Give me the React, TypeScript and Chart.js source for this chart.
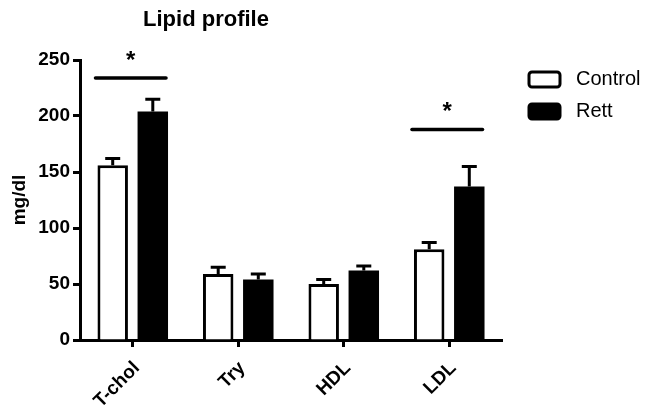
import React, { useEffect, useRef } from "react";
import { Chart, registerables } from "chart.js";

Chart.register(...registerables);

const categories = ["T-chol", "Try", "HDL", "LDL"];
const seriesNames = ["Control", "Rett"];
const controlValues = [156, 59, 50, 81];
const controlErrors = [6, 6, 4, 6];
const rettValues = [204, 54, 62, 137];
const rettErrors = [11, 5, 4, 18];
const sigCategories = [0, 3];
const sigLevels = [234, 188];
const sigLabels = ["*", "*"];
const yTicks = [0, 50, 100, 150, 200, 250];

const FONT = "Arial, 'Liberation Sans', sans-serif";

const errorBarPlugin = {
  id: "errorBars",
  afterDatasetsDraw(chart: any) {
    const ctx = chart.ctx;
    const y = chart.scales.y;
    const errs = [controlErrors, rettErrors];
    ctx.save();
    ctx.strokeStyle = "#000";
    ctx.lineWidth = 3;
    chart.data.datasets.forEach((ds: any, di: number) => {
      const meta = chart.getDatasetMeta(di);
      meta.data.forEach((bar: any, i: number) => {
        const v = ds.data[i];
        const top = y.getPixelForValue(v + errs[di][i]);
        const base = y.getPixelForValue(v);
        const half = 7.5;
        ctx.beginPath();
        ctx.moveTo(bar.x, base);
        ctx.lineTo(bar.x, top);
        ctx.moveTo(bar.x - half, top);
        ctx.lineTo(bar.x + half, top);
        ctx.stroke();
      });
    });
    ctx.restore();
  },
};

const sigPlugin = {
  id: "significance",
  afterDatasetsDraw(chart: any) {
    const ctx = chart.ctx;
    const y = chart.scales.y;
    const m0 = chart.getDatasetMeta(0);
    const m1 = chart.getDatasetMeta(1);
    ctx.save();
    ctx.strokeStyle = "#000";
    ctx.fillStyle = "#000";
    ctx.lineWidth = 3.5;
    ctx.lineCap = "round";
    sigCategories.forEach((ci, k) => {
      const b0 = m0.data[ci];
      const b1 = m1.data[ci];
      const x0 = b0.x - b0.width / 2 - 2;
      const x1 = b1.x + b1.width / 2 - 2;
      const py = y.getPixelForValue(sigLevels[k]);
      ctx.beginPath();
      ctx.moveTo(x0, py);
      ctx.lineTo(x1, py);
      ctx.stroke();
      ctx.font = `bold 24px ${FONT}`;
      ctx.textAlign = "center";
      ctx.textBaseline = "middle";
      ctx.fillText(sigLabels[k], (x0 + x1) / 2, py - 17);
    });
    ctx.restore();
  },
};

const titlePlugin = {
  id: "customTitle",
  afterDraw(chart: any) {
    const ctx = chart.ctx;
    const a = chart.chartArea;
    ctx.save();
    ctx.font = `bold 22px ${FONT}`;
    ctx.fillStyle = "#000";
    ctx.textAlign = "center";
    ctx.textBaseline = "middle";
    ctx.fillText("Lipid profile", a.left + 126, 12);
    ctx.restore();
  },
};

const legendPlugin = {
  id: "customLegend",
  afterDraw(chart: any) {
    const ctx = chart.ctx;
    const a = chart.chartArea;
    ctx.save();
    chart.data.datasets.forEach((ds: any, i: number) => {
      const bx = a.right + 27;
      const by = a.top + 12 + i * 32;
      const w = 31;
      const h = 15;
      ctx.beginPath();
      if (ctx.roundRect) ctx.roundRect(bx, by, w, h, 3);
      else ctx.rect(bx, by, w, h);
      ctx.fillStyle = ds.backgroundColor;
      ctx.fill();
      ctx.lineWidth = 3;
      ctx.strokeStyle = "#000";
      ctx.stroke();
      ctx.fillStyle = "#000";
      ctx.font = `20px ${FONT}`;
      ctx.textAlign = "left";
      ctx.textBaseline = "middle";
      ctx.fillText(ds.label, bx + w + 16, by + h / 2);
    });
    ctx.restore();
  },
};

export default function App() {
  const ref = useRef<HTMLCanvasElement>(null);
  useEffect(() => {
    if (!ref.current) return;
    const chart = new Chart(ref.current, {
      type: "bar",
      data: {
        labels: categories,
        datasets: [
          {
            label: seriesNames[0],
            data: controlValues,
            backgroundColor: "#ffffff",
            borderColor: "#000000",
            borderWidth: 3,
            categoryPercentage: 0.76,
            barPercentage: 0.76,
          },
          {
            label: seriesNames[1],
            data: rettValues,
            backgroundColor: "#000000",
            borderColor: "#000000",
            borderWidth: 0,
            categoryPercentage: 0.76,
            barPercentage: 0.76,
          },
        ],
      },
      options: {
        responsive: false,
        animation: false,
        layout: { padding: { top: 52, right: 144, left: 0, bottom: 0 } },
        plugins: {
          legend: { display: false },
          title: { display: false },
          tooltip: { enabled: false },
        },
        scales: {
          x: {
            afterFit(scale: any) {
              scale.height = 67;
            },
            grid: {
              display: true,
              drawOnChartArea: false,
              drawTicks: true,
              tickLength: 7,
              tickWidth: 3,
              tickColor: "#000",
              offset: false,
            },
            border: { display: true, color: "#000", width: 3 },
            ticks: {
              color: "#000",
              font: { family: FONT, size: 19, weight: "bold" },
              minRotation: 45,
              maxRotation: 45,
              padding: 10,
              labelOffset: 4,
            },
          },
          y: {
            min: 0,
            max: 250,
            afterFit(scale: any) {
              scale.width = 72;
            },
            afterBuildTicks(scale: any) {
              scale.ticks = yTicks.map((v) => ({ value: v }));
            },
            grid: {
              display: true,
              drawOnChartArea: false,
              drawTicks: true,
              tickLength: 7,
              tickWidth: 3,
              tickColor: "#000",
            },
            border: { display: true, color: "#000", width: 3 },
            ticks: {
              color: "#000",
              font: { family: FONT, size: 19, weight: "bold" },
              padding: 3,
            },
            title: {
              display: true,
              text: "mg/dl",
              color: "#000",
              font: { family: FONT, size: 19, weight: "bold" },
              padding: { top: 0, bottom: 4 },
            },
          },
        },
      },
      plugins: [errorBarPlugin, sigPlugin, titlePlugin, legendPlugin],
    });
    return () => chart.destroy();
  }, []);
  return <canvas ref={ref} width={638} height={399} />;
}
